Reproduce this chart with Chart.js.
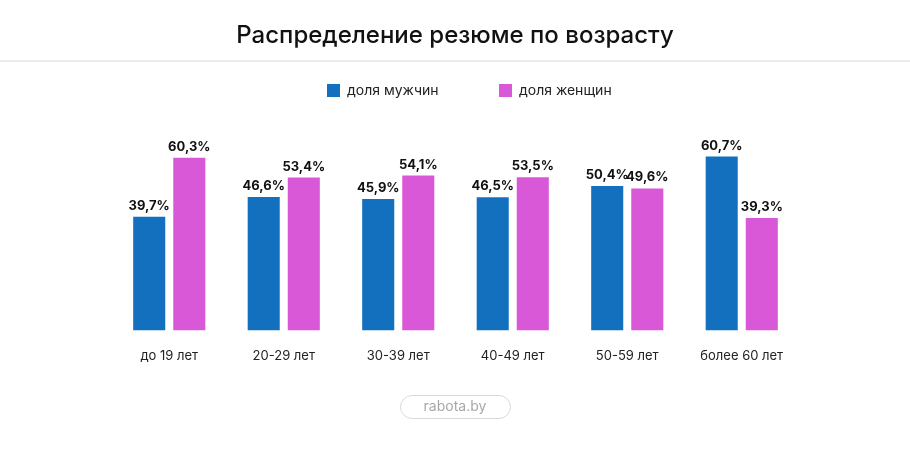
<!DOCTYPE html>
<html>
<head>
<meta charset="utf-8">
<script src="https://cdn.jsdelivr.net/npm/chart.js@4.4.1/dist/chart.umd.min.js"></script>
<style>
  html, body { margin: 0; padding: 0; background: #ffffff; }
  #wrap { width: 910px; height: 449px; position: relative; }
</style>
</head>
<body>
<div id="wrap"><canvas id="chart"></canvas></div>
<script>
// age groups
const categories = ["до 19 лет", "20-29 лет", "30-39 лет", "40-49 лет", "50-59 лет", "более 60 лет"];
// shares, %
const menShare = [39.7, 46.6, 45.9, 46.5, 50.4, 60.7];
const womenShare = [60.3, 53.4, 54.1, 53.5, 49.6, 39.3];
const seriesNames = ["доля мужчин", "доля женщин"];

const FONT = "Inter, 'Open Sans', sans-serif";
const blue = "#1370bf";
const pink = "#d958d8";

// title, legend, value labels and footer badge
const decorations = {
    id: "decorations",
    afterDraw(chart) {
        const c = chart.ctx;
        const w = chart.width;
        c.save();

        // title
        c.fillStyle = "#111111";
        c.font = "500 24px " + FONT;
        c.textAlign = "center";
        c.textBaseline = "middle";
        c.fillText("Распределение резюме по возрасту", w / 2, 36);

        // divider under title
        c.fillStyle = "#ececec";
        c.fillRect(0, 60, w, 2);

        // legend
        c.font = "400 14px " + FONT;
        c.textAlign = "left";
        const legendX = [327, 499];
        chart.data.datasets.forEach((ds, i) => {
            c.fillStyle = ds.backgroundColor;
            c.fillRect(legendX[i], 84, 13, 13);
            c.fillStyle = "#222222";
            c.fillText(ds.label, legendX[i] + 20, 91);
        });

        // value labels above bars
        c.font = "700 13px " + FONT;
        c.textAlign = "center";
        c.textBaseline = "alphabetic";
        c.fillStyle = "#111111";
        chart.data.datasets.forEach((ds, i) => {
            chart.getDatasetMeta(i).data.forEach((bar, j) => {
                const txt = ds.data[j].toFixed(1).replace(".", ",") + "%";
                c.fillText(txt, bar.x, bar.y - 7);
            });
        });

        // footer pill
        c.strokeStyle = "#d9d9d9";
        c.lineWidth = 1;
        c.beginPath();
        c.roundRect(400.5, 395.5, 110, 23, 11.5);
        c.stroke();
        c.fillStyle = "#a8a8a8";
        c.font = "400 14px " + FONT;
        c.textBaseline = "middle";
        c.fillText("rabota.by", 455, 407);

        c.restore();
    },
};

new Chart(document.getElementById("chart"), {
    type: "bar",
    data: {
        labels: categories,
        datasets: [
            { label: seriesNames[0], data: menShare, backgroundColor: blue },
            { label: seriesNames[1], data: womenShare, backgroundColor: pink },
        ],
    },
    options: {
        responsive: true,
        maintainAspectRatio: false,
        animation: false,
        layout: { padding: { top: 130, left: 112, right: 111, bottom: 67 } },
        datasets: {
            bar: { categoryPercentage: 0.7, barPercentage: 0.8 },
        },
        scales: {
            y: { display: false, min: 0, max: 70 },
            x: {
                grid: { display: false, drawTicks: false },
                border: { display: false },
                ticks: {
                    color: "#222222",
                    font: { family: FONT, size: 13 },
                    padding: 18,
                },
            },
        },
        plugins: {
            legend: { display: false },
            tooltip: { enabled: false },
        },
    },
    plugins: [decorations],
});
</script>
</body>
</html>
